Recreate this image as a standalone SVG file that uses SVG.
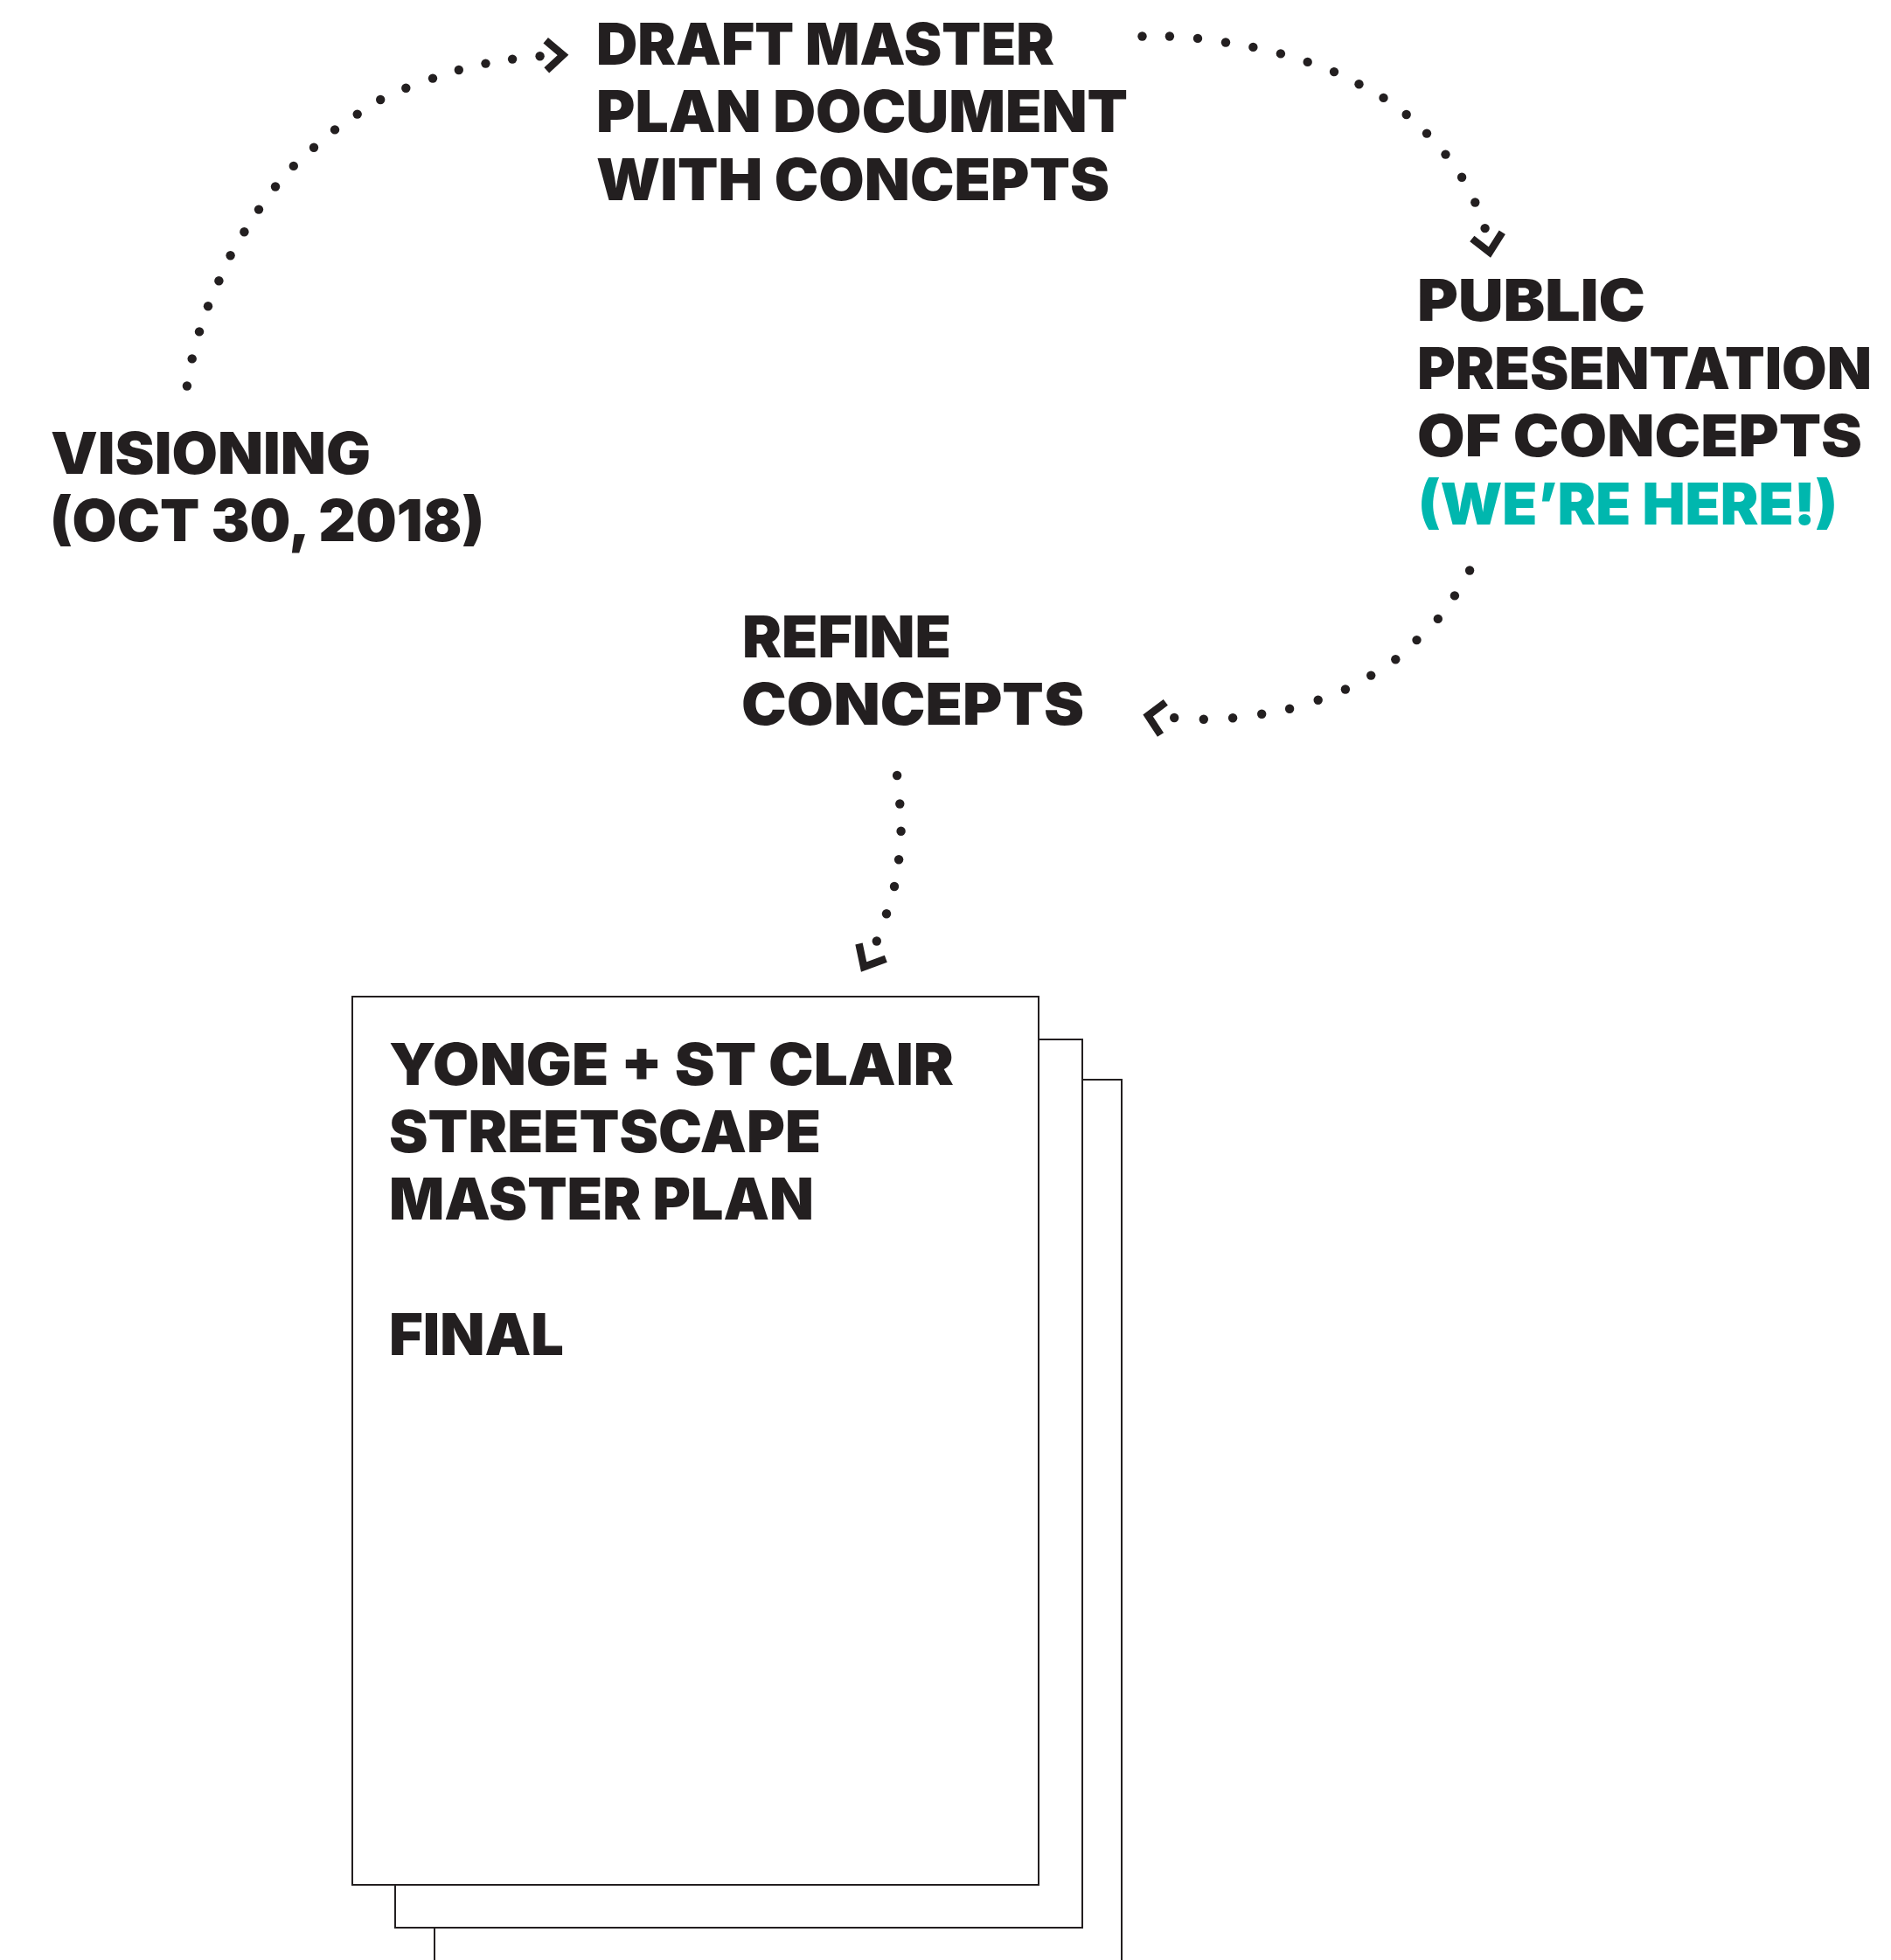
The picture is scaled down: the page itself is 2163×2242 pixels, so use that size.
<svg xmlns="http://www.w3.org/2000/svg" width="2163" height="2242" viewBox="0 0 2163 2242">
<style>
  .t { font-family: Inter, "Liberation Sans", sans-serif; font-weight: 900; font-size: 66px; fill: #231f20; }
  .teal { fill: #00b7ae; }
  .dot { fill: #231f20; }
  .chev { fill: none; stroke: #231f20; stroke-width: 8.5; stroke-linejoin: miter; stroke-linecap: butt; }
  .page { fill: #ffffff; stroke: #231f20; stroke-width: 2; }
</style>
<rect width="2163" height="2242" fill="#ffffff"/>

<g id="connectors">
  <g id="c-visioning-draft">
    <circle class="dot" cx="213.9" cy="441.5" r="5.2"/>
    <circle class="dot" cx="219.7" cy="410.4" r="5.2"/>
    <circle class="dot" cx="228" cy="379.4" r="5.2"/>
    <circle class="dot" cx="238" cy="350.3" r="5.2"/>
    <circle class="dot" cx="250.4" cy="321.3" r="5.2"/>
    <circle class="dot" cx="263.6" cy="292.3" r="5.2"/>
    <circle class="dot" cx="279.4" cy="265.3" r="5.2"/>
    <circle class="dot" cx="296" cy="239.6" r="5.2"/>
    <circle class="dot" cx="315" cy="213.5" r="5.2"/>
    <circle class="dot" cx="335.8" cy="189.9" r="5.2"/>
    <circle class="dot" cx="359" cy="168.7" r="5.2"/>
    <circle class="dot" cx="383" cy="148.4" r="5.2"/>
    <circle class="dot" cx="408.7" cy="130.6" r="5.2"/>
    <circle class="dot" cx="435.2" cy="114" r="5.2"/>
    <circle class="dot" cx="464.3" cy="100.7" r="5.2"/>
    <circle class="dot" cx="495" cy="89.6" r="5.2"/>
    <circle class="dot" cx="524.8" cy="80" r="5.2"/>
    <circle class="dot" cx="555.5" cy="72.6" r="5.2"/>
    <circle class="dot" cx="586.1" cy="67.6" r="5.2"/>
    <circle class="dot" cx="617.6" cy="64.3" r="5.2"/>
    <polyline class="chev" points="624.2,46.3 644,63 625.3,80.3"/>
  </g>
  <g id="c-draft-public">
    <circle class="dot" cx="1306.5" cy="41.5" r="5.2"/>
    <circle class="dot" cx="1337.9" cy="41.5" r="5.2"/>
    <circle class="dot" cx="1370" cy="43.9" r="5.2"/>
    <circle class="dot" cx="1402" cy="48.5" r="5.2"/>
    <circle class="dot" cx="1433.4" cy="53.9" r="5.2"/>
    <circle class="dot" cx="1464.9" cy="61.4" r="5.2"/>
    <circle class="dot" cx="1495.7" cy="70.9" r="5.2"/>
    <circle class="dot" cx="1526" cy="82.1" r="5.2"/>
    <circle class="dot" cx="1554.5" cy="96.2" r="5.2"/>
    <circle class="dot" cx="1582.5" cy="111.9" r="5.2"/>
    <circle class="dot" cx="1608.7" cy="131" r="5.2"/>
    <circle class="dot" cx="1632" cy="152.6" r="5.2"/>
    <circle class="dot" cx="1653.5" cy="176.6" r="5.2"/>
    <circle class="dot" cx="1672.1" cy="202.7" r="5.2"/>
    <circle class="dot" cx="1687.3" cy="231.5" r="5.2"/>
    <circle class="dot" cx="1698.6" cy="261.1" r="5.2"/>
    <polyline class="chev" points="1683.8,273 1703.9,288.6 1718.3,265.8"/>
  </g>
  <g id="c-public-refine">
    <circle class="dot" cx="1681.1" cy="652.5" r="5.2"/>
    <circle class="dot" cx="1663.9" cy="681.4" r="5.2"/>
    <circle class="dot" cx="1644.8" cy="707.9" r="5.2"/>
    <circle class="dot" cx="1620.5" cy="732.1" r="5.2"/>
    <circle class="dot" cx="1596.3" cy="754.3" r="5.2"/>
    <circle class="dot" cx="1568.2" cy="772.6" r="5.2"/>
    <circle class="dot" cx="1538.9" cy="788.5" r="5.2"/>
    <circle class="dot" cx="1507.7" cy="800.8" r="5.2"/>
    <circle class="dot" cx="1475.1" cy="810.7" r="5.2"/>
    <circle class="dot" cx="1443.2" cy="816.7" r="5.2"/>
    <circle class="dot" cx="1410.1" cy="821.3" r="5.2"/>
    <circle class="dot" cx="1376.8" cy="822.8" r="5.2"/>
    <circle class="dot" cx="1343.2" cy="821" r="5.2"/>
    <polyline class="chev" points="1333.3,803.3 1313.1,818.5 1327.5,840.5"/>
  </g>
  <g id="c-refine-final">
    <circle class="dot" cx="1026.1" cy="887" r="5.2"/>
    <circle class="dot" cx="1029.3" cy="919.5" r="5.2"/>
    <circle class="dot" cx="1030.6" cy="950.7" r="5.2"/>
    <circle class="dot" cx="1028.1" cy="983.2" r="5.2"/>
    <circle class="dot" cx="1023" cy="1014" r="5.2"/>
    <circle class="dot" cx="1014" cy="1045.2" r="5.2"/>
    <circle class="dot" cx="1002.8" cy="1076.5" r="5.2"/>
    <polyline class="chev" points="982.5,1079.5 988.1,1106 1013.3,1096.7"/>
  </g>
</g>

<g id="node-draft">
  <text class="t" x="682" y="73.5" textLength="524" lengthAdjust="spacingAndGlyphs">DRAFT MASTER</text>
  <text class="t" x="682" y="151" textLength="608" lengthAdjust="spacingAndGlyphs">PLAN DOCUMENT</text>
  <text class="t" x="682" y="228.5" textLength="587" lengthAdjust="spacingAndGlyphs">WITH CONCEPTS</text>
</g>

<g id="node-visioning">
  <text class="t" x="58" y="542" textLength="366" lengthAdjust="spacingAndGlyphs">VISIONING</text>
  <text class="t" x="57" y="619" textLength="497" lengthAdjust="spacingAndGlyphs">(OCT 30, 2018)</text>
</g>

<g id="node-public">
  <text class="t" x="1621" y="367" textLength="261" lengthAdjust="spacingAndGlyphs">PUBLIC</text>
  <text class="t" x="1621" y="445" textLength="520" lengthAdjust="spacingAndGlyphs">PRESENTATION</text>
  <text class="t" x="1621" y="522" textLength="509" lengthAdjust="spacingAndGlyphs">OF CONCEPTS</text>
  <text class="t teal" x="1622" y="600" textLength="480" lengthAdjust="spacingAndGlyphs">(WE’RE HERE!)</text>
</g>

<g id="node-refine">
  <text class="t" x="849" y="752" textLength="239" lengthAdjust="spacingAndGlyphs">REFINE</text>
  <text class="t" x="848" y="829" textLength="392" lengthAdjust="spacingAndGlyphs">CONCEPTS</text>
</g>

<g id="node-final">
  <rect class="page" x="497" y="1235" width="786" height="1100"/>
  <rect class="page" x="452" y="1189" width="786" height="1016"/>
  <rect class="page" x="403" y="1140" width="785" height="1016"/>
  <text class="t" x="445" y="1241" textLength="646" lengthAdjust="spacingAndGlyphs">YONGE + ST CLAIR</text>
  <text class="t" x="445" y="1318" textLength="494" lengthAdjust="spacingAndGlyphs">STREETSCAPE</text>
  <text class="t" x="445" y="1395" textLength="486" lengthAdjust="spacingAndGlyphs">MASTER PLAN</text>
  <text class="t" x="445" y="1550" textLength="200" lengthAdjust="spacingAndGlyphs">FINAL</text>
</g>
</svg>
